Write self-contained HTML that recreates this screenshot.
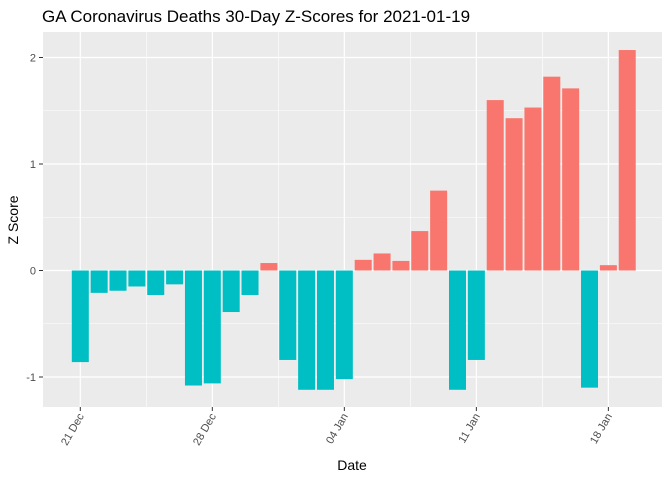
<!DOCTYPE html>
<html><head><meta charset="utf-8">
<style>
body{margin:0;background:#fff;}
svg{display:block;font-family:"Liberation Sans",sans-serif;}
</style></head>
<body>
<svg id="chart" width="672" height="480">
<text x="42" y="22" font-size="17" fill="#000">GA Coronavirus Deaths 30-Day Z-Scores for 2021-01-19</text>
<rect x="43" y="32" width="619" height="375" fill="#ebebeb"/>
<g id="grid"></g>
<g id="bars"></g>
<g id="axes"></g>
<text x="352" y="470" font-size="14" text-anchor="middle">Date</text>
<text transform="translate(18,220) rotate(-90)" font-size="14" text-anchor="middle">Z Score</text>
</svg>
<script>
const days = ["Dec 21","Dec 22","Dec 23","Dec 24","Dec 25","Dec 26","Dec 27","Dec 28","Dec 29","Dec 30","Dec 31","Jan 1","Jan 2","Jan 3","Jan 4","Jan 5","Jan 6","Jan 7","Jan 8","Jan 9","Jan 10","Jan 11","Jan 12","Jan 13","Jan 14","Jan 15","Jan 16","Jan 17","Jan 18","Jan 19"];
const zscores = [-0.86,-0.21,-0.19,-0.15,-0.23,-0.13,-1.08,-1.06,-0.39,-0.23,0.07,-0.84,-1.12,-1.12,-1.02,0.10,0.16,0.09,0.37,0.75,-1.12,-0.84,1.60,1.43,1.53,1.82,1.71,-1.10,0.05,2.07];
const yTicks = [-1,0,1,2];
const xTickIdx = [0,7,14,21,28];
const xTickLabels = ["21 Dec","28 Dec","04 Jan","11 Jan","18 Jan"];

const NS="http://www.w3.org/2000/svg";
const x = i => 80.3 + i*18.86;
const y = v => 270.5 - v*106.5;
function mk(tag, attrs, parent){const e=document.createElementNS(NS,tag);for(const k in attrs)e.setAttribute(k,attrs[k]);parent.appendChild(e);return e;}
const grid=document.getElementById('grid'), bars=document.getElementById('bars'), axes=document.getElementById('axes');
// minor grid
for(let k=0;k<yTicks.length-1;k++){
  const v=(yTicks[k]+yTicks[k+1])/2;
  const l=mk('line',{x1:43,x2:662,y1:y(v),y2:y(v),stroke:'#fff','stroke-width':0.6},grid);
  
  
}
for(let k=0;k<xTickIdx.length-1;k++){
  const xv=x((xTickIdx[k]+xTickIdx[k+1])/2);
  const l=mk('line',{x1:xv,x2:xv,y1:32,y2:407,stroke:'#fff','stroke-width':0.6},grid);
  
  
}
yTicks.forEach(v=>{
  const l=mk('line',{x1:43,x2:662,y1:y(v),y2:y(v),stroke:'#fff','stroke-width':1.2},grid);
  
  
  const t=mk('line',{x1:39,x2:43,y1:y(v),y2:y(v),stroke:'#333','stroke-width':1},axes);
  
  
  const tx=mk('text',{x:36,y:y(v)+4,'font-size':11,'text-anchor':'end',fill:'#4d4d4d'},axes);
  tx.textContent=v;
  
  
});
xTickIdx.forEach((i,k)=>{
  const xv=x(i);
  const l=mk('line',{x1:xv,x2:xv,y1:32,y2:407,stroke:'#fff','stroke-width':1.2},grid);
  
  
  const t=mk('line',{x1:xv,x2:xv,y1:407,y2:411,stroke:'#333','stroke-width':1},axes);
  
  
  const tx=mk('text',{x:0,y:0,'font-size':11,'text-anchor':'end',fill:'#4d4d4d',transform:`translate(${xv+4},${416}) rotate(-60)`},axes);
  tx.textContent=xTickLabels[k];
  
  
});
zscores.forEach((v,i)=>{
  const top=Math.min(y(v),y(0)), h=Math.abs(y(v)-y(0));
  const r=mk('rect',{x:x(i)-8.5,y:top,width:17,height:h,fill:v>=0?'#f8766d':'#00bfc4'},bars);
  
  
});
</script>
</body></html>
